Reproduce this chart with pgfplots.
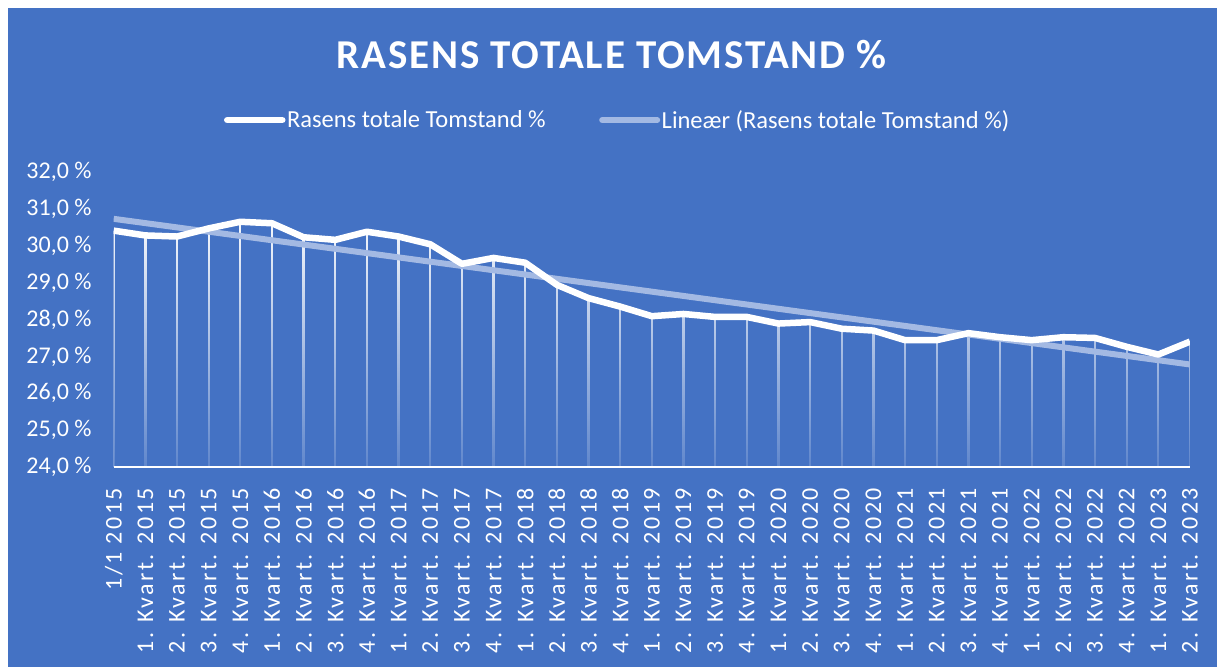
\documentclass[border=0pt]{standalone}
\usepackage{fontspec}
\setmainfont{Carlito}
\newfontfamily\titlefont[LetterSpace=4.5]{Carlito}
\newfontfamily\xlabfont[LetterSpace=10]{Carlito}
\newfontfamily\ylabfont[LetterSpace=0]{Carlito}
\usepackage{pgfplots}
\pgfplotsset{compat=1.18}
\usetikzlibrary{fadings}
\definecolor{bgblue}{RGB}{68,114,196}
\definecolor{trendcol}{RGB}{163,185,227}
\tikzfading[name=dropfade, top color=transparent!100, bottom color=transparent!15]
\begin{document}
\begin{tikzpicture}
\fill[white] (-113.7bp,467bp) rectangle (1103.3bp,-200bp);
\fill[bgblue] (-105.7bp,459bp) rectangle (1103.3bp,-200bp);
\node[font=\titlefont\bfseries\fontsize{41bp}{45bp}\selectfont, text=white] at (497.8bp,412bp) {RASENS TOTALE TOMSTAND \%};
\begin{axis}[
  at={(0,0)}, anchor=south west,
  scale only axis, width=1076.3bp, height=295bp,
  xmin=0, xmax=34, ymin=24, ymax=32,
  axis on top,
  axis x line*=bottom, axis y line*=left,
  x axis line style={white, line width=2bp},
  y axis line style={draw=none},
  tick style={draw=none},
  xtick={0,...,34},
  xticklabels={1/1 2015,
    1. Kvart. 2015,2. Kvart. 2015,3. Kvart. 2015,4. Kvart. 2015,
    1. Kvart. 2016,2. Kvart. 2016,3. Kvart. 2016,4. Kvart. 2016,
    1. Kvart. 2017,2. Kvart. 2017,3. Kvart. 2017,4. Kvart. 2017,
    1. Kvart. 2018,2. Kvart. 2018,3. Kvart. 2018,4. Kvart. 2018,
    1. Kvart. 2019,2. Kvart. 2019,3. Kvart. 2019,4. Kvart. 2019,
    1. Kvart. 2020,2. Kvart. 2020,3. Kvart. 2020,4. Kvart. 2020,
    1. Kvart. 2021,2. Kvart. 2021,3. Kvart. 2021,4. Kvart. 2021,
    1. Kvart. 2022,2. Kvart. 2022,3. Kvart. 2022,4. Kvart. 2022,
    1. Kvart. 2023,2. Kvart. 2023},
  ytick={24,25,...,32},
  yticklabels={{24,0 \%},{25,0 \%},{26,0 \%},{27,0 \%},{28,0 \%},{29,0 \%},{30,0 \%},{31,0 \%},{32,0 \%}},
  xticklabel style={yshift=-21bp, rotate=90, anchor=east, inner sep=0pt, text=white, font=\xlabfont\fontsize{24bp}{28bp}\selectfont},
  yticklabel style={xshift=-22bp, anchor=east, inner sep=0pt, text=white, font=\ylabfont\fontsize{24bp}{28bp}\selectfont},
  legend columns=2,
  legend style={at={(0.468,1.176)}, anchor=center, draw=none, fill=none,
    font=\fontsize{24.5bp}{28bp}\selectfont, text=white,
    nodes={inner xsep=1.5bp},
    /tikz/every even column/.append style={column sep=52bp}},
  legend cell align=left,
  legend image code/.code={\draw[#1, line cap=round] (0bp,0bp) -- (55bp,0bp);},
]
\addplot[forget plot, ycomb, white, line width=2.3bp, mark=none] coordinates {
(0,30.41) (1,30.28) (2,30.25) (3,30.47) (4,30.65) (5,30.61) (6,30.23) (7,30.16)
(8,30.38) (9,30.25) (10,30.04) (11,29.51) (12,29.67) (13,29.54) (14,28.94) (15,28.58)
(16,28.35) (17,28.09) (18,28.15) (19,28.07) (20,28.07) (21,27.89) (22,27.93) (23,27.75)
(24,27.70) (25,27.44) (26,27.44) (27,27.63) (28,27.52) (29,27.44) (30,27.52) (31,27.50)
(32,27.26) (33,27.05) (34,27.40)};
\fill[bgblue, path fading=dropfade, fit fading=true] (axis cs:-0.2,24) rectangle (axis cs:34.2,31);
\addlegendimage{white, line width=6.5bp}
\addlegendentry{Rasens totale Tomstand \%}
\addlegendimage{trendcol, line width=6bp}
\addlegendentry{Lineær (Rasens totale Tomstand \%)}
\addplot[forget plot, trendcol, line width=6bp] coordinates {(0,30.73) (34,26.78)};
\addplot[forget plot, white, line width=6.5bp, line join=round, mark=none] coordinates {
(0,30.41) (1,30.28) (2,30.25) (3,30.47) (4,30.65) (5,30.61) (6,30.23) (7,30.16)
(8,30.38) (9,30.25) (10,30.04) (11,29.51) (12,29.67) (13,29.54) (14,28.94) (15,28.58)
(16,28.35) (17,28.09) (18,28.15) (19,28.07) (20,28.07) (21,27.89) (22,27.93) (23,27.75)
(24,27.70) (25,27.44) (26,27.44) (27,27.63) (28,27.52) (29,27.44) (30,27.52) (31,27.50)
(32,27.26) (33,27.05) (34,27.40)};
\end{axis}
\end{tikzpicture}
\end{document}
